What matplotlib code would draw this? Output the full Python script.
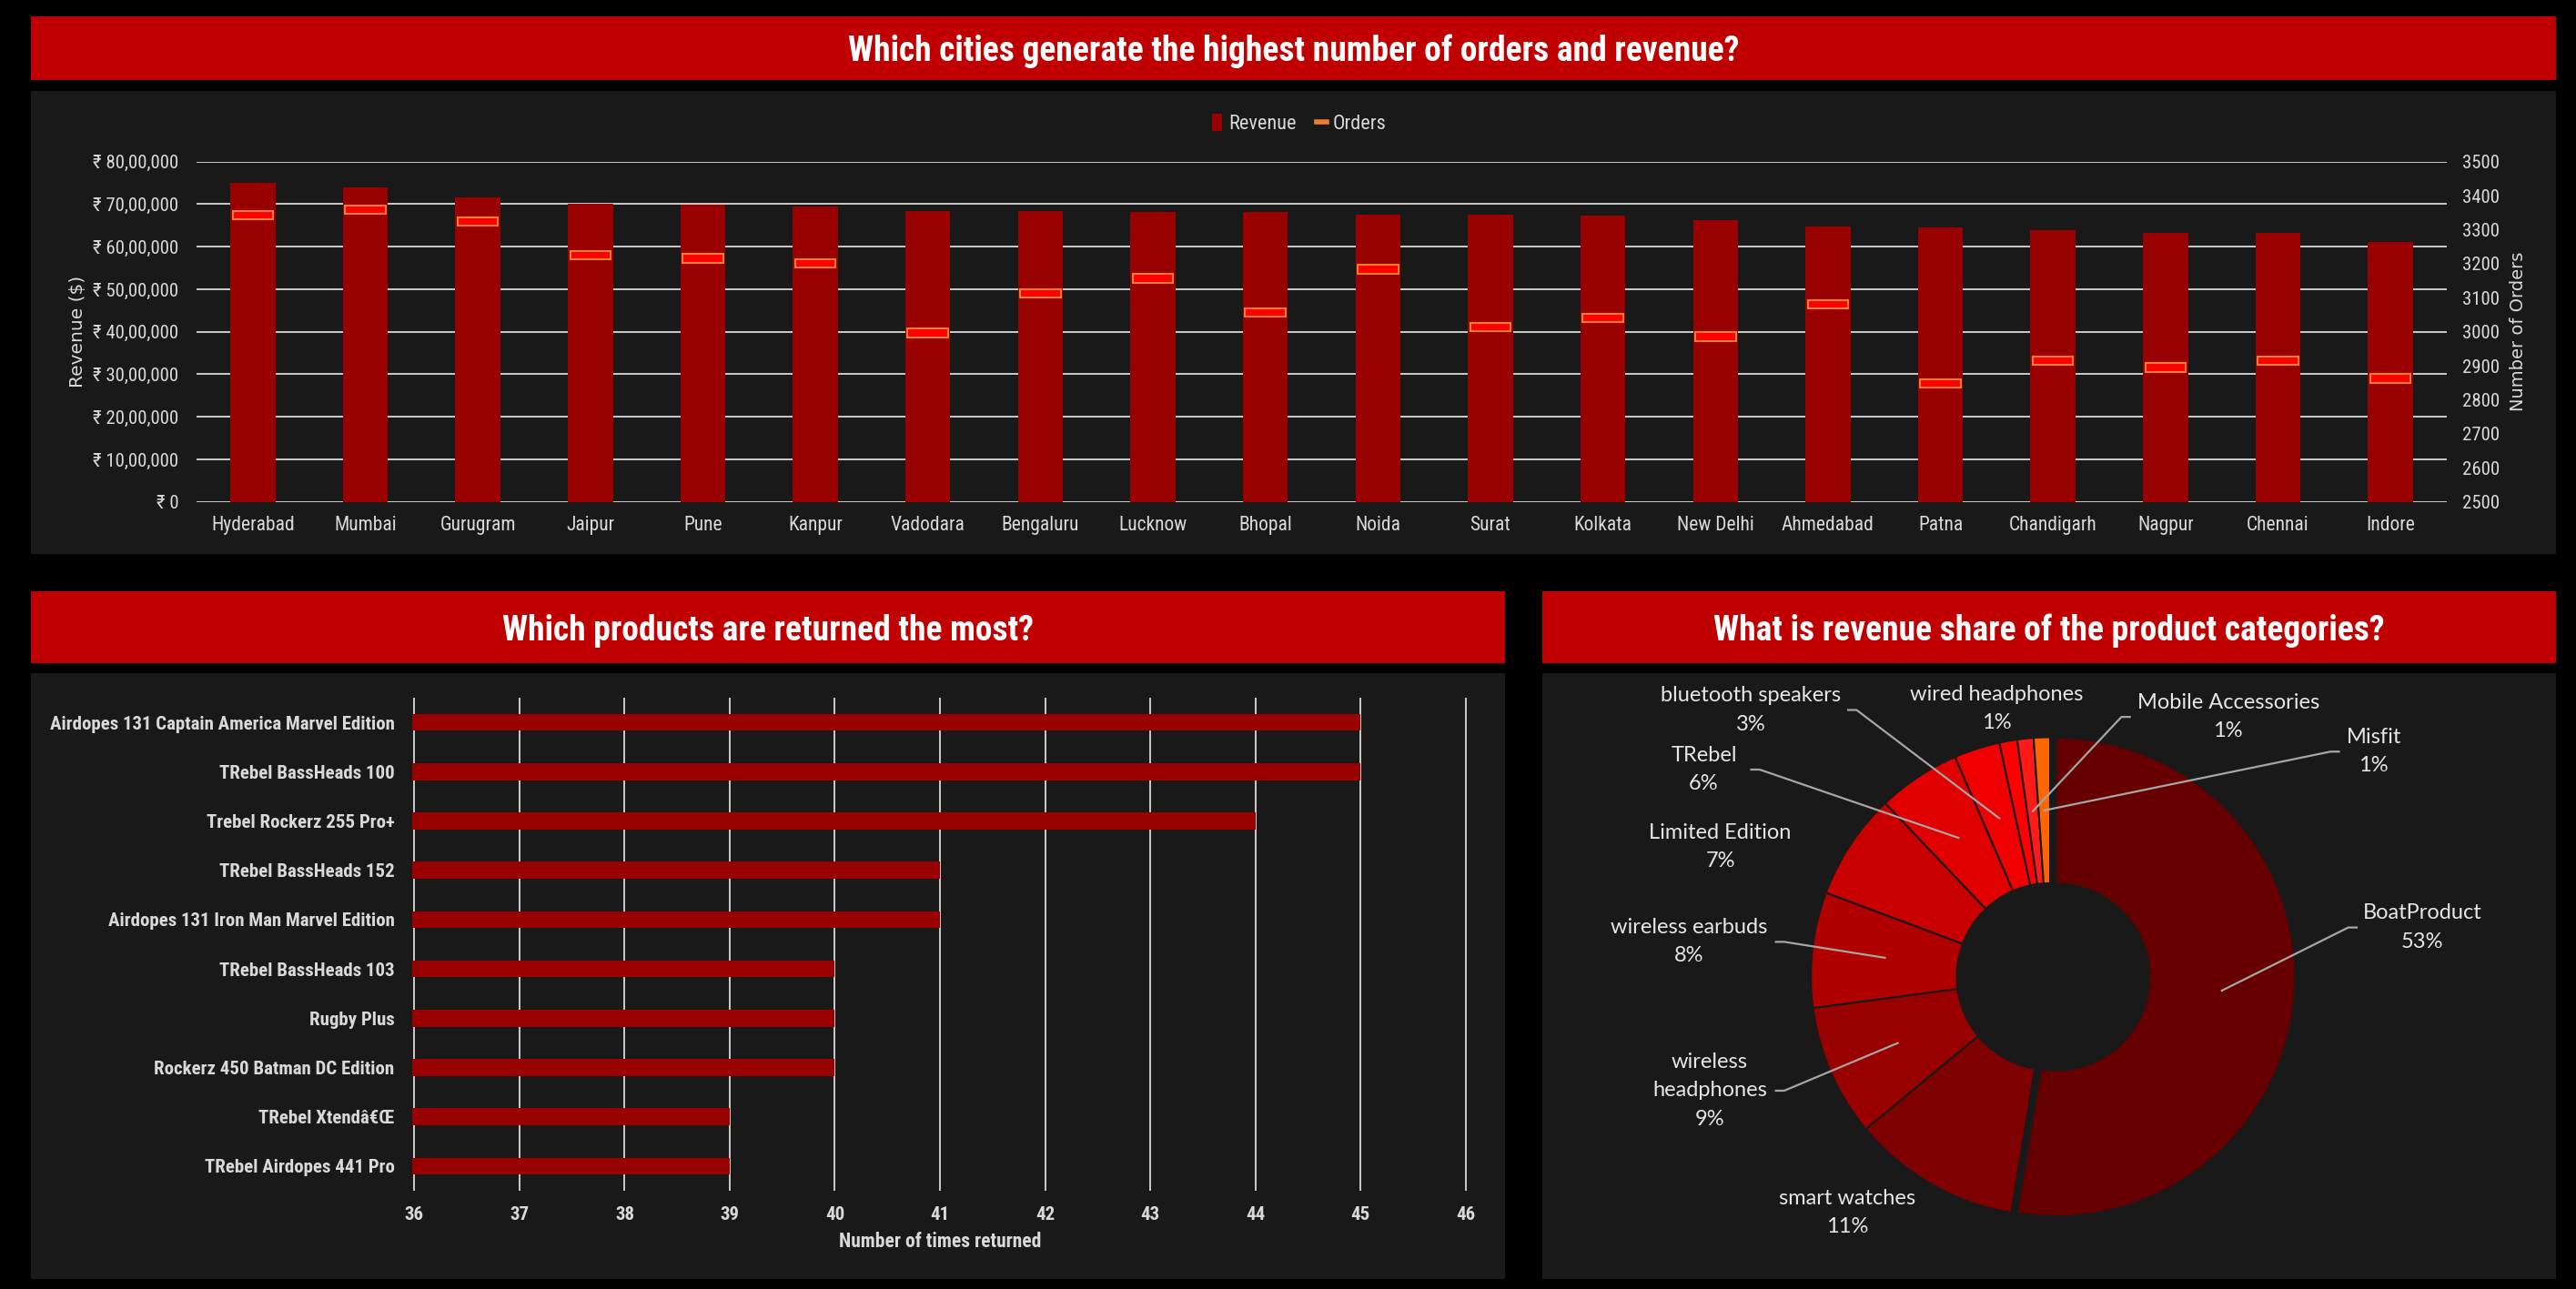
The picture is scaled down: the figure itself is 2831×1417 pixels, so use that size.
import matplotlib

matplotlib.use("Agg")
import matplotlib.pyplot as plt
import numpy as np
from matplotlib import font_manager as fm
from matplotlib.lines import Line2D
from matplotlib.patches import Patch
from matplotlib.ticker import FuncFormatter

# ---- data -------------------------------------------------------------
cities = ["Hyderabad", "Mumbai", "Gurugram", "Jaipur", "Pune", "Kanpur", "Vadodara",
          "Bengaluru", "Lucknow", "Bhopal", "Noida", "Surat", "Kolkata", "New Delhi",
          "Ahmedabad", "Patna", "Chandigarh", "Nagpur", "Chennai", "Indore"]
revenue = [7500000, 7394000, 7160000, 7016000, 6987000, 6945000, 6838000,
           6838000, 6816000, 6816000, 6752000, 6752000, 6731000, 6624000,
           6474000, 6453000, 6389000, 6324000, 6324000, 6110000]
orders = [3343, 3359, 3324, 3225, 3215, 3201, 2996,
          3113, 3156, 3057, 3183, 3014, 3041, 2985,
          3081, 2848, 2915, 2894, 2915, 2862]

products = ["Airdopes 131 Captain America Marvel Edition", "TRebel BassHeads 100",
            "Trebel Rockerz 255 Pro+", "TRebel BassHeads 152",
            "Airdopes 131 Iron Man Marvel Edition", "TRebel BassHeads 103",
            "Rugby Plus", "Rockerz 450 Batman DC Edition",
            "TRebel Xtend\u00e2\u20ac\u0152", "TRebel Airdopes 441 Pro"]
returns = [45, 45, 44, 41, 41, 40, 40, 40, 39, 39]

categories = ["BoatProduct", "smart watches", "wireless\nheadphones", "wireless earbuds",
              "Limited Edition", "TRebel", "bluetooth speakers", "wired headphones",
              "Mobile Accessories", "Misfit"]
share = [52.6, 11.4, 8.9, 7.8, 7.2, 5.6, 3.1, 1.2, 1.1, 1.1]

# ---- style ------------------------------------------------------------
BG = "#000000"
PANEL = "#191919"
BAND = "#C00000"
BAR = "#990000"
TXT = "#D9D9D9"
GRID = "#D9D9D9"
pie_colors = ["#660000", "#7F0000", "#990000", "#B00000", "#C80000",
              "#E00000", "#F00000", "#FF0000", "#FF1A1A", "#FF6600"]

installed = {f.name for f in fm.fontManager.ttflist}
COND = next((n for n in ["Liberation Sans Narrow", "Roboto Condensed", "DejaVu Sans"]
             if n in installed), "DejaVu Sans")
FAM = [COND, "DejaVu Sans"]
STRETCH = "condensed" if COND == "DejaVu Sans" else "normal"
PIEFONT = ["Lato", "DejaVu Sans"]

W, H = 2831, 1417
fig = plt.figure(figsize=(W / 100, H / 100), dpi=100, facecolor=BG)


def rect(x0, y0, x1, y1):
    return [x0 / W, 1 - y1 / H, (x1 - x0) / W, (y1 - y0) / H]


def box(x0, y0, x1, y1, color, title=None):
    a = fig.add_axes(rect(x0, y0, x1, y1))
    a.set_facecolor(color)
    a.set_xticks([])
    a.set_yticks([])
    for s in a.spines.values():
        s.set_visible(False)
    if title:
        a.text(0.5, 0.45, title, ha="center", va="center", color="white",
               fontsize=27, fontweight="bold", family=FAM, fontstretch=STRETCH)
    return a


def inr(v, _pos=None):
    s = str(int(round(v)))
    if len(s) > 3:
        head, tail = s[:-3], s[-3:]
        parts = []
        while len(head) > 2:
            parts.insert(0, head[-2:])
            head = head[:-2]
        if head:
            parts.insert(0, head)
        s = ",".join(parts + [tail])
    return "\u20b9 " + s


# ---- top: revenue and orders by city ---------------------------------
box(34, 18, 2809, 88, BAND, "Which cities generate the highest number of orders and revenue?")
box(34, 100, 2809, 609, PANEL)

ax = fig.add_axes(rect(216, 177.7, 2689, 551.7))
ax.set_facecolor("none")
x = np.arange(len(cities))
ax.bar(x, revenue, width=0.4, color=BAR, zorder=2)
ax.set_xlim(-0.5, len(cities) - 0.5)
ax.set_ylim(0, 8000000)
ax.set_yticks(np.arange(0, 8000001, 1000000))
ax.yaxis.set_major_formatter(FuncFormatter(inr))
ax.set_xticks(x, cities)
ax.grid(axis="y", color=GRID, lw=1.3, zorder=0)
ax.set_axisbelow(True)
ax.tick_params(axis="y", length=0, colors=TXT, labelsize=15, pad=14)
ax.tick_params(axis="x", length=0, colors=TXT, labelsize=15.5, pad=11)
for s in ax.spines.values():
    s.set_visible(False)
for t in ax.get_xticklabels() + ax.get_yticklabels():
    t.set_family(FAM)
    t.set_fontstretch(STRETCH)
ax.set_ylabel("Revenue ($)", color=TXT, fontsize=14.5, family="DejaVu Sans", labelpad=5)

ax2 = ax.twinx()
ax2.set_ylim(2500, 3500)
ax2.set_yticks(np.arange(2500, 3501, 100))
ax2.bar(x, 26, bottom=np.array(orders) - 13, width=0.36, color="#FF0000",
        edgecolor="#ED7D31", linewidth=1.5, zorder=3)
ax2.tick_params(axis="y", length=0, colors=TXT, labelsize=15, pad=12)
for s in ax2.spines.values():
    s.set_visible(False)
for t in ax2.get_yticklabels():
    t.set_family(FAM)
    t.set_fontstretch(STRETCH)
ax2.set_ylabel("Number of Orders", color=TXT, fontsize=14, family="DejaVu Sans", labelpad=8)

handles = [Patch(facecolor=BAR, label="Revenue"),
           Line2D([], [], color="#ED7D31", lw=4, label="Orders")]
leg = ax.legend(handles=handles, loc="center", bbox_to_anchor=(0.49, 1.111), ncol=2,
                frameon=False, handlelength=0.5, handleheight=0.9, handletextpad=0.3,
                columnspacing=1.0, prop=fm.FontProperties(family=FAM, size=16, stretch=STRETCH))
for t in leg.get_texts():
    t.set_color(TXT)

# ---- bottom left: most returned products ------------------------------
box(34, 650, 1654, 729, BAND, "Which products are returned the most?")
box(34, 740, 1654, 1406, PANEL)

axb = fig.add_axes(rect(453, 767, 1613, 1309))
axb.set_facecolor("none")
y = np.arange(len(products))
axb.barh(y, returns, height=0.34, color=BAR, zorder=2)
axb.set_xlim(35.98, 46.02)
axb.set_ylim(len(products) - 0.5, -0.5)
axb.set_xticks(np.arange(36, 47))
axb.set_yticks(y, products)
axb.grid(axis="x", color=GRID, lw=1.3, zorder=0)
axb.set_axisbelow(True)
axb.tick_params(axis="y", length=0, colors=TXT, labelsize=15, pad=14)
axb.tick_params(axis="x", length=0, colors=TXT, labelsize=15, pad=12)
for s in axb.spines.values():
    s.set_visible(False)
for t in axb.get_xticklabels() + axb.get_yticklabels():
    t.set_family(FAM)
    t.set_fontstretch(STRETCH)
    t.set_fontweight("bold")
axb.set_xlabel("Number of times returned", color=TXT, fontsize=15.5, fontweight="bold",
               family=FAM, fontstretch=STRETCH, labelpad=7)

# ---- bottom right: revenue share donut --------------------------------
box(1695, 650, 2809, 729, BAND, "What is revenue share of the product categories?")
box(1695, 740, 2809, 1406, PANEL)

axp = fig.add_axes(rect(1695, 740.5, 2808, 1406))
axp.set_facecolor("none")
explode = [0.025] + [0] * (len(share) - 1)
wedges, _ = axp.pie(share, colors=pie_colors, startangle=90, counterclock=False,
                    explode=explode, radius=1,
                    wedgeprops=dict(width=0.61, edgecolor=PANEL, linewidth=1.5))
axp.set_xlim(-2.122, 2.110)
axp.set_ylim(-1.264, 1.266)
axp.set_aspect("auto")

# label centre (x, y) and the x where the leader line meets the label
label_pos = {
    "BoatProduct": (1.556, 0.205, 1.281),
    "smart watches": (-0.847, -0.985, None),
    "wireless\nheadphones": (-1.422, -0.477, -1.146),
    "wireless earbuds": (-1.509, 0.145, -1.146),
    "Limited Edition": (-1.378, 0.541, None),
    "TRebel": (-1.447, 0.865, -1.249),
    "bluetooth speakers": (-1.252, 1.114, -0.844),
    "wired headphones": (-0.225, 1.121, None),
    "Mobile Accessories": (0.744, 1.085, 0.333),
    "Misfit": (1.352, 0.940, 1.207),
}
for w, name, val in zip(wedges, categories, share):
    tx, ty, lx = label_pos[name]
    axp.text(tx, ty, f"{name}\n{val:.0f}%", ha="center", va="center", linespacing=1.6,
             fontsize=17, color="#E6E6E6", family=PIEFONT)
    if lx is None:
        continue
    mid = np.deg2rad((w.theta1 + w.theta2) / 2)
    cx, cy = w.center
    axm, aym = cx + 0.695 * np.cos(mid), cy + 0.695 * np.sin(mid)
    elbow = lx + 0.035 * np.sign(axm - lx)
    axp.plot([lx, elbow, axm], [ty, ty, aym], color="#A6A6A6", lw=1.6, zorder=5)

fig.savefig("out.png", dpi=100, facecolor=BG)
